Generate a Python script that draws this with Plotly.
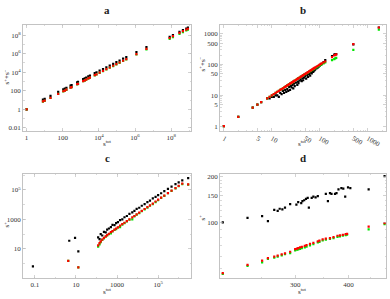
import plotly.graph_objects as go

# ---------------- Panel a ----------------
xa = [1, 8, 10, 21, 56, 107, 130, 160, 270, 310, 630, 700, 1350, 1650, 2000, 2600, 3200,
      5900, 7400, 1.1e4, 1.7e4, 2.6e4, 4e4, 6.2e4, 9.3e4, 1.4e5, 2.2e5, 3.3e5, 1.2e6, 4.3e6,
      8.3e7, 1.26e8, 2.9e8, 4.5e8, 6.9e8, 8.5e8]
ya_black = [1, 11, 13, 28, 75, 140, 170, 210, 360, 400, 820, 930, 1800, 2200, 2600, 3500, 4200,
            7800, 9800, 1.45e4, 2.2e4, 3.4e4, 5.2e4, 8e4, 1.2e5, 1.8e5, 2.9e5, 4.2e5, 1.5e6, 5e6,
            6.5e7, 1e8, 2.2e8, 3.4e8, 5e8, 6.2e8]
ya_red = [1, 7, 8.5, 17, 46, 88, 105, 130, 220, 250, 510, 560, 1100, 1300, 1600, 2100, 2600,
          4700, 5900, 8800, 1.35e4, 2.1e4, 3.2e4, 4.9e4, 7.3e4, 1.1e5, 1.7e5, 2.6e5, 9e5, 3.2e6,
          4.8e7, 7.5e7, 1.7e8, 2.6e8, 3.9e8, 4.8e8]
ya_green = [1, 6.8, 8.2, 16.5, 45, 85, 100, 125, 210, 240, 490, 540, 1050, 1250, 1550, 2000, 2500,
            4500, 5600, 8400, 1.3e4, 2e4, 3e4, 4.6e4, 6.8e4, 1e5, 1.6e5, 2.4e5, 8e5, 2.8e6,
            3.9e7, 6e7, 1.35e8, 2.1e8, 3.1e8, 3.8e8]

# ---------------- Panel b ----------------
xb = [1, 2, 4, 5, 6, 8, 9, 10, 11, 12, 13, 14, 15, 16, 17, 18, 19, 20, 21, 22, 23, 24, 25, 26,
      27, 28, 29, 30, 32, 34, 35, 36, 38, 40, 42, 44, 45, 47, 50, 52, 55, 57, 60, 63, 65, 68,
      70, 73, 75, 78, 80, 85, 90, 95, 100, 105, 110, 120, 130, 180, 200, 210, 220, 500, 1700]
yb_red = [1, 2, 4, 5, 6, 8, 9, 10, 11, 12, 13, 14, 15, 16, 17, 18, 19, 20, 21, 22, 23, 24, 25, 26,
          27, 28, 29, 30, 32, 34, 35, 36, 38, 40, 42, 44, 45, 47, 50, 52, 55, 57, 60, 63, 65, 68,
          70, 73, 75, 78, 80, 85, 90, 95, 100, 105, 110, 118, 126, 175, 200, 205, 215, 460, 1600]
yb_green = [1, 2, 4, 5, 6, 8, 9, 10, 11, 12, 13, 14, 15, 16, 17, 18, 19, 20, 21, 22, 23, 24, 25, 26,
            27, 28, 29, 30, 32, 34, 35, 36, 38, 40, 42, 44, 45, 47, 49, 51, 54, 56, 59, 61, 63, 66,
            68, 70, 72, 75, 77, 81, 86, 90, 94, 98, 103, 110, 118, 140, 150, 158, 165, 300, 1350]
yb_black = [1, 2, 4, 5, 6, 8, 8, 9, 9, 10, 10, 9, 12, 11, 14, 12, 15, 13, 16, 14, 19, 15, 20, 18,
            22, 17, 24, 20, 26, 22, 28, 25, 30, 33, 29, 36, 31, 38, 42, 35, 46, 40, 50, 44, 55, 52,
            60, 58, 64, 66, 70, 75, 80, 86, 92, 98, 104, 120, 140, 190, 210, 215, 220, 450, 1600]

# ---------------- Panel c ----------------
xc_black = [0.08, 4.7, 9, 13, 120, 140, 160, 190, 230, 280, 330, 400, 500, 600, 750, 900, 1100,
            1400, 1800, 2300, 3000, 4000, 5500, 7000, 9000, 1.2e4, 1.6e4, 2.2e4, 3e4, 4e4, 5.5e4,
            7.5e4, 1e5, 1.4e5, 2e5, 3e5, 4.5e5, 7e5, 1e6, 1.5e6, 2.9e6]
yc_black = [0.63, 35, 55, 6.6, 60, 45, 100, 80, 140, 130, 200, 240, 300, 420, 400, 560, 650,
            900, 1000, 1400, 1700, 2400, 3000, 3800, 5200, 6200, 8500, 1.1e4, 1.5e4, 1.9e4, 2.7e4,
            3.4e4, 4.5e4, 6e4, 8.5e4, 1.2e5, 1.7e5, 2.5e5, 3.3e5, 4.5e5, 6.5e5]
xc_red = [4.2, 13, 120, 140, 160, 190, 230, 280, 330, 400, 500, 600, 750, 900, 1100, 1400, 1800,
          2300, 3000, 4000, 5500, 7000, 9000, 1.2e4, 1.6e4, 2.2e4, 3e4, 4e4, 5.5e4, 7.5e4, 1e5,
          1.4e5, 2e5, 3e5, 4.5e5, 7e5, 1e6, 1.5e6, 2.9e6]
yc_red = [1.5, 0.54, 17, 24, 32, 42, 55, 70, 85, 105, 135, 160, 200, 240, 290, 370, 470,
          590, 760, 1000, 1350, 1700, 2200, 2900, 3800, 5100, 6800, 9000, 1.2e4, 1.65e4, 2.2e4,
          3e4, 4.2e4, 6.2e4, 9e4, 1.35e5, 1.9e5, 2.7e5, 2.4e5]
yc_green = [1.5, 0.54, 14, 20, 28, 40, 50, 66, 80, 100, 110, 150, 190, 220, 280, 300, 440,
            560, 720, 950, 1000, 1600, 2100, 2700, 3600, 4800, 6400, 8500, 1.1e4, 1.5e4, 2e4,
            2.9e4, 4e4, 6e4, 8.6e4, 1.3e5, 1.8e5, 2.5e5, 2.3e5]

# ---------------- Panel d ----------------
xd_black = [203, 232, 251, 259, 268, 273, 276, 280, 284, 292, 302, 305, 310, 312, 315, 318, 321,
            323, 328, 331, 335, 339, 354, 358, 362, 365, 372, 375, 379, 385, 389, 393, 399, 404,
            446, 486]
yd_black = [100, 107, 110, 102, 121, 119, 123, 122, 125, 132, 131, 136, 134, 138, 140, 143, 145,
            125, 145, 148, 146, 149, 154, 138, 156, 154, 154, 156, 165, 168, 167, 148, 170, 168,
            165, 202]
xd_rg = [203, 232, 251, 259, 268, 273, 279, 284, 292, 300, 303, 305, 308, 311, 316, 319, 325, 331,
         339, 342, 348, 354, 362, 369, 377, 382, 388, 394, 397, 446, 486]
yd_red = [46.4, 52.6, 56.1, 58.1, 59.6, 60.4, 61.6, 62.5, 64.1, 66.7, 67.3, 67.7, 68.4, 69.1,
          70.0, 70.8, 72.2, 73.3, 75.1, 75.9, 77.3, 78.1, 78.9, 80.0, 81.7, 82.1, 82.9, 83.7,
          84.1, 93.8, 99.0]
yd_green = [45.8, 51.8, 54.5, 57.4, 58.5, 59.6, 60.6, 61.8, 62.8, 65.4, 66.2, 66.5, 67.0, 67.8,
            68.5, 69.3, 70.6, 71.8, 73.8, 74.5, 76.0, 77.0, 77.8, 78.8, 80.4, 81.0, 81.8, 82.5,
            83.0, 90.0, 97.5]

# tick labels
a_xt = [1, 100, 1e4, 1e6, 1e8]
a_xl = ["1", "100", "10<sup>4</sup>", "10<sup>6</sup>", "10<sup>8</sup>"]
a_yt = [0.01, 1, 100, 1e4, 1e6, 1e8]
a_yl = ["0.01", "1", "100", "10<sup>4</sup>", "10<sup>6</sup>", "10<sup>8</sup>"]
b_t = [1, 5, 10, 50, 100, 500, 1000]
b_l = ["1", "5", "10", "50", "100", "500", "1000"]
c_xt = [0.1, 10, 1000, 1e5]
c_xl = ["0.1", "10", "1000", "10<sup>5</sup>"]
c_yt = [10, 1000, 1e5]
c_yl = ["10", "1000", "10<sup>5</sup>"]
d_xt = [300, 400]
d_xl = ["300", "400"]
d_yt = [100, 150, 200]
d_yl = ["100", "150", "200"]

# ---------------- figure ----------------
COL_BLACK = "#000000"
COL_RED = "#ff0000"
COL_GREEN = "#00e600"
FONT = "Liberation Serif"
W, H = 390, 299

fig = go.Figure()

def pts(x, y, color, xa_id, ya_id):
    fig.add_trace(go.Scatter(x=x, y=y, mode="markers", xaxis=xa_id, yaxis=ya_id,
                             marker=dict(color=color, size=2.2, symbol="square", line=dict(width=0)),
                             showlegend=False, hoverinfo="skip"))

pts(xa, ya_black, COL_BLACK, "x", "y")
pts(xa, ya_green, COL_GREEN, "x", "y")
pts(xa, ya_red, COL_RED, "x", "y")

pts(xb, yb_black, COL_BLACK, "x2", "y2")
pts(xb, yb_green, COL_GREEN, "x2", "y2")
pts(xb, yb_red, COL_RED, "x2", "y2")

pts(xc_black, yc_black, COL_BLACK, "x3", "y3")
pts(xc_red, yc_green, COL_GREEN, "x3", "y3")
pts(xc_red, yc_red, COL_RED, "x3", "y3")

pts(xd_black, yd_black, COL_BLACK, "x4", "y4")
pts(xd_rg, yd_green, COL_GREEN, "x4", "y4")
pts(xd_rg, yd_red, COL_RED, "x4", "y4")

FRAME = "#b4b4b4"
TICKFONT = dict(family=FONT, size=7, color="#333333")


def axis(domain, rng, tickvals, ticktext, minorvals, anchor):
    return dict(domain=domain, type="log", range=rng, anchor=anchor,
                tickvals=tickvals, ticktext=ticktext, tickfont=TICKFONT,
                ticks="inside", ticklen=3, tickwidth=0.6, tickcolor=FRAME,
                minor=dict(tickvals=minorvals, ticks="inside", ticklen=1.5, tickwidth=0.5,
                           tickcolor=FRAME, showgrid=False),
                showline=True, linecolor=FRAME, linewidth=0.8, mirror="allticks",
                showgrid=False, zeroline=False, fixedrange=True)

def px_x(a, b):
    return [a / W, b / W]

def px_y(top, bottom):
    return [1 - bottom / H, 1 - top / H]

XD1 = px_x(23, 191)
XD2 = px_x(220, 386)
YD1 = px_y(24, 131)
YD2 = px_y(174, 279)

decades_a = [10.0 ** k for k in range(-2, 10)]
minor_b = [2, 3, 4, 6, 7, 8, 9, 20, 30, 40, 60, 70, 80, 90, 200, 300, 400, 600, 700, 800, 900, 2000]
decades_c = [10.0 ** k for k in range(-1, 7)]
minor_dx = [250, 350, 450]
minor_dy = [50, 60, 70, 80, 90, 110, 120, 130, 140, 160, 170, 180, 190]

fig.update_layout(
    width=W, height=H, margin=dict(l=0, r=0, t=0, b=0),
    paper_bgcolor="white", plot_bgcolor="white",
    xaxis=axis(XD1, [-0.2, 9.1], a_xt, a_xl, decades_a, "y"),
    yaxis=axis(YD1, [-2.35, 9.1], a_yt, a_yl, decades_a, "x"),
    xaxis2=axis(XD2, [-0.08, 3.38], b_t, b_l, minor_b, "y2"),
    yaxis2=axis(YD1, [-0.16, 3.29], b_t, b_l, minor_b, "x2"),
    xaxis3=axis(XD1, [-1.58, 6.6], c_xt, c_xl, decades_c, "y3"),
    yaxis3=axis(YD2, [-1.0, 6.1], c_yt, c_yl, decades_c, "x3"),
    xaxis4=axis(XD2, [2.301, 2.69], d_xt, d_xl, minor_dx, "y4"),
    yaxis4=axis(YD2, [1.633, 2.32], d_yt, d_yl, minor_dy, "x4"),
)

def note(text, x, y, size, angle=0, bold=False):
    t = "<b>%s</b>" % text if bold else text
    fig.add_annotation(text=t, x=x / W, y=1 - y / H, xref="paper", yref="paper",
                       showarrow=False, textangle=angle,
                       font=dict(family=FONT, size=size, color="#222222"),
                       xanchor="center", yanchor="middle")

# panel titles
note("a", 107, 9, 11, bold=True)
note("b", 303, 9, 11, bold=True)
note("c", 107, 158, 11, bold=True)
note("d", 303, 158, 11, bold=True)

# axis titles
XT = "s<sup>tot</sup>"
note(XT, 107, 143, 7)
note(XT, 302, 143, 7)
note(XT, 107, 292, 7)
note(XT, 302, 292, 7)
note("s<sup>+</sup>+s<sup>−</sup>", 7, 76, 7, angle=-90)
note("s<sup>+</sup>+s<sup>−</sup>", 203, 64, 7, angle=-90)
note("s<sup>+</sup>", 7, 225, 7, angle=-90)
note("s<sup>+</sup>", 203, 218, 7, angle=-90)

fig.write_html("out.html", config={"displayModeBar": False, "staticPlot": True},
               post_script="document.body.style.margin='0';document.body.style.overflow='hidden';")
